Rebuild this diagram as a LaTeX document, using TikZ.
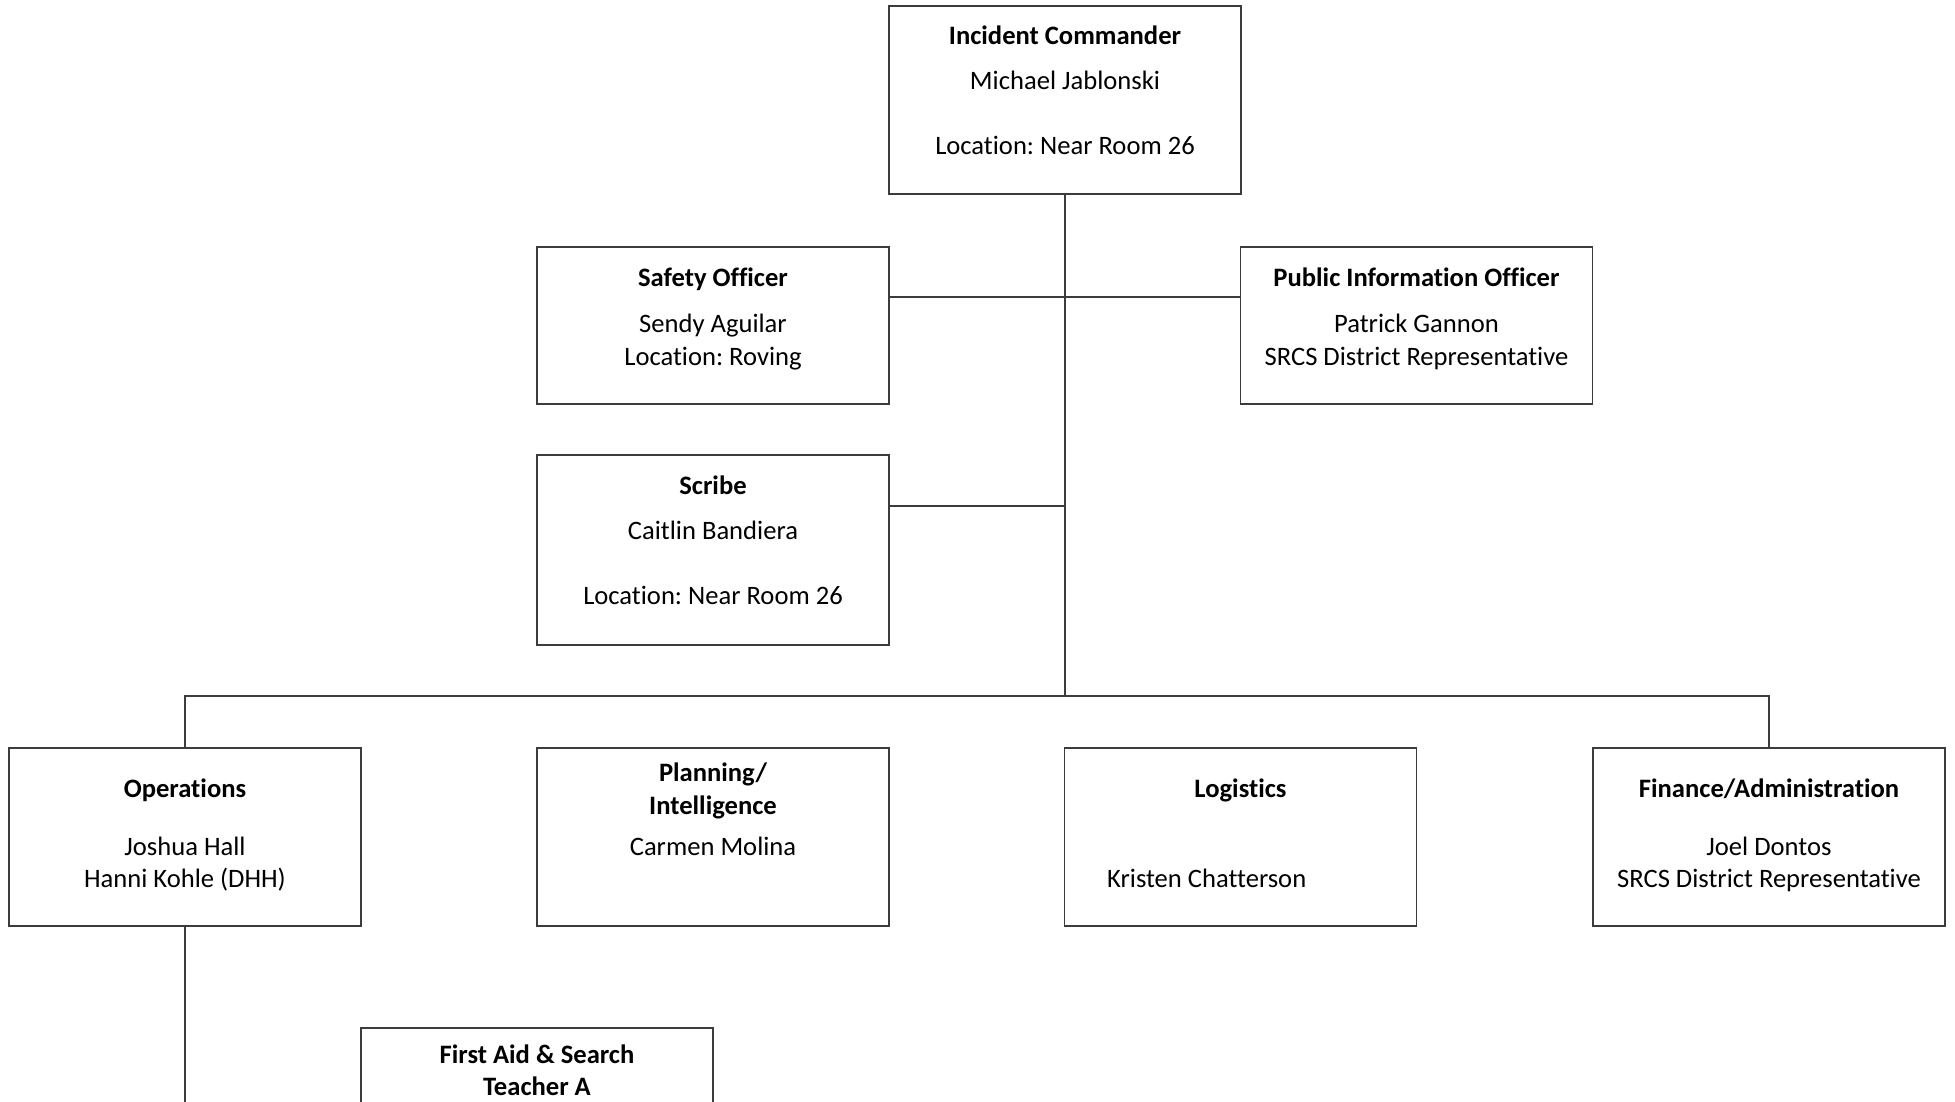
\documentclass[tikz,border=0pt]{standalone}
\usepackage{fontspec}
\setmainfont{Carlito}[Ligatures=NoCommon]
\frenchspacing
\definecolor{linecol}{HTML}{3C3C3C}
\begin{document}
\begin{tikzpicture}[x=1pt,y=-1pt,
  box/.style={draw=linecol, line width=1.4pt, rectangle, minimum width=352pt, inner sep=0pt, outer sep=0pt},
  ln/.style={draw=linecol, line width=1.4pt},
  tt/.style={font=\fontsize{26.6}{32.4}\selectfont\bfseries, anchor=base, inner sep=0pt},
  tx/.style={font=\fontsize{26.6}{32.4}\selectfont, anchor=base, inner sep=0pt}]
\useasboundingbox (0,0) rectangle (1955,1101);
\fill[white] (0,0) rectangle (1955,1101);
\clip (0,0) rectangle (1955,1101);

% boxes
\node[box, minimum height=188pt] (ic) at (1065,100) {};
\node[box, minimum height=157pt] (safety) at (713,325.5) {};
\node[box, minimum height=157pt] (pio) at (1416.5,325.5) {};
\node[box, minimum height=190pt] (scribe) at (713,550) {};
\node[box, minimum height=178pt] (ops) at (185,837) {};
\node[box, minimum height=178pt] (plan) at (713,837) {};
\node[box, minimum height=178pt] (log) at (1240.5,837) {};
\node[box, minimum height=178pt] (fin) at (1769,837) {};
\node[box, minimum height=178pt] (fa) at (537,1117) {};

% junctions
\coordinate (j1) at (1065,297);
\coordinate (j2) at (1065,506);
\coordinate (bus) at (1065,696);

% connectors
\draw[ln] (ic.south) -- (bus);
\draw[ln] (safety.east |- j1) -- (pio.west |- j1);
\draw[ln] (scribe.east |- j2) -- (j2);
\draw[ln] (ops.north) |- (bus) -| (fin.north);
\draw[ln] (ops.south) |- (fa.west);

% texts
\node[tt] (ic-t) at (1065,44) {Incident Commander};
\node[tx] (ic-1) at (1065,89.5) {Michael Jablonski};
\node[tx] (ic-2) at (1065,154) {Location: Near Room 26};

\node[tt] (safety-t) at (713,286) {Safety Officer};
\node[tx] (safety-1) at (713,332) {Sendy Aguilar};
\node[tx] (safety-2) at (713,365) {Location: Roving};

\node[tt] (pio-t) at (1416.5,286) {Public Information Officer};
\node[tx] (pio-1) at (1416.5,332) {Patrick Gannon};
\node[tx] (pio-2) at (1416.5,365) {SRCS District Representative};

\node[tt] (scribe-t) at (713,494.5) {Scribe};
\node[tx] (scribe-1) at (713,539.5) {Caitlin Bandiera};
\node[tx] (scribe-2) at (713,604) {Location: Near Room 26};

\node[tt] (ops-t) at (185,797.5) {Operations};
\node[tx] (ops-1) at (185,855) {Joshua Hall};
\node[tx] (ops-2) at (185,887.5) {Hanni Kohle (DHH)};

\node[tt] (plan-t1) at (713,781) {Planning/};
\node[tt] (plan-t2) at (713,814.5) {Intelligence};
\node[tx] (plan-1) at (713,855) {Carmen Molina};

\node[tt] (log-t) at (1240.5,797.5) {Logistics};
\node[tx, anchor=base west] (log-1) at (1107,887.5) {Kristen Chatterson};

\node[tt] (fin-t) at (1769,797.5) {Finance/Administration};
\node[tx] (fin-1) at (1769,855) {Joel Dontos};
\node[tx] (fin-2) at (1769,887.5) {SRCS District Representative};

\node[tt] (fa-t1) at (537,1063) {First Aid \& Search};
\node[tt] (fa-t2) at (537,1095.5) {Teacher A};
\end{tikzpicture}
\end{document}
